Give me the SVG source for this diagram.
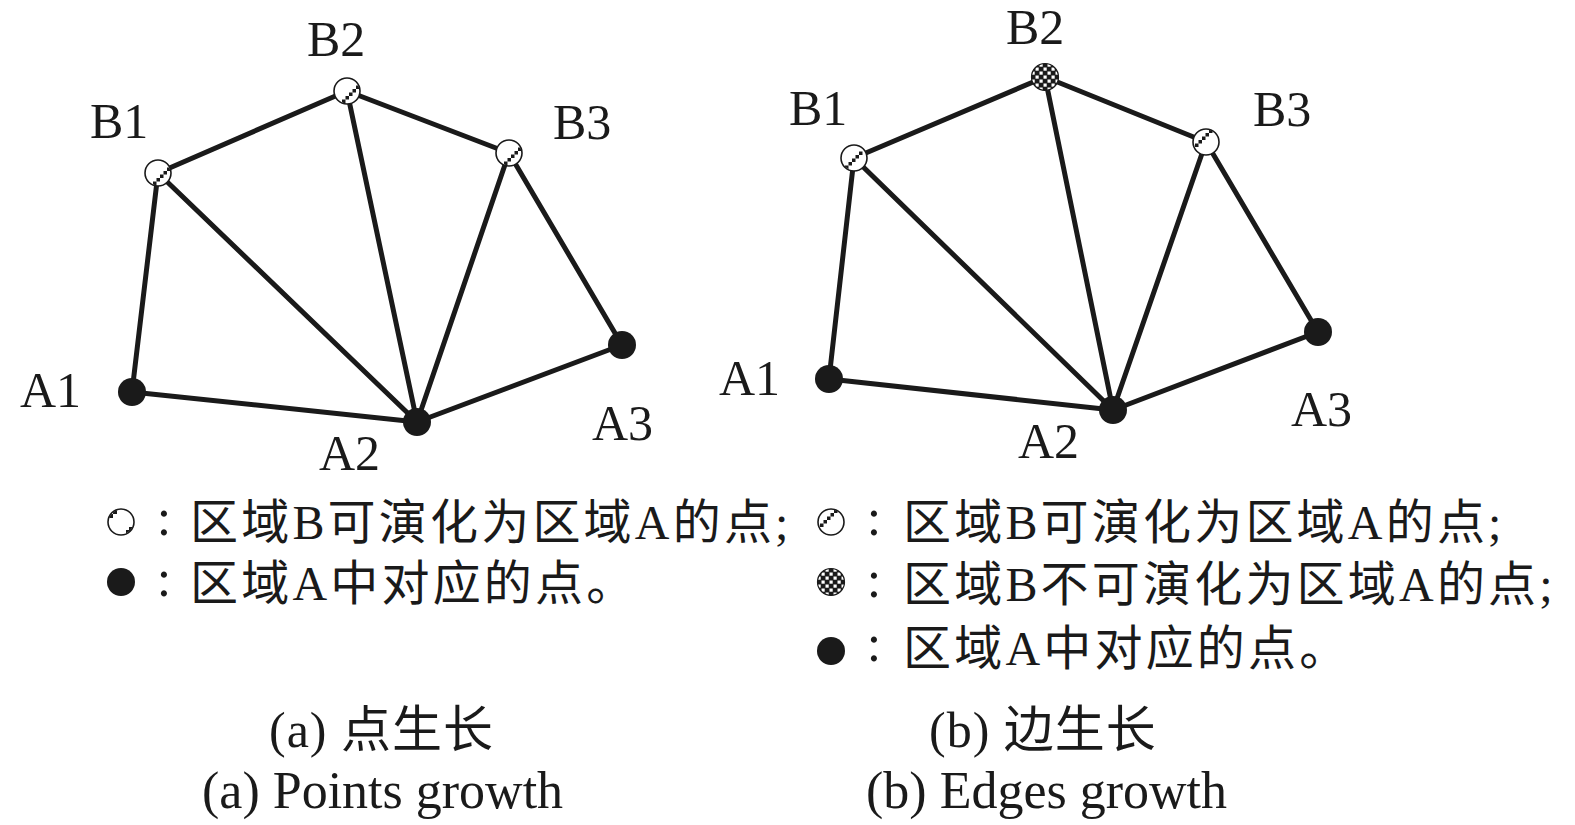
<svg xmlns="http://www.w3.org/2000/svg" width="1575" height="825" viewBox="0 0 1575 825">
<style>
.edge{stroke:#1a1a1a;stroke-width:5;stroke-linecap:round;fill:none}
.lbl{font-family:"Liberation Serif","Times New Roman",serif;font-size:50px;fill:#1a1a1a}
.leg{font-family:"Liberation Serif","Noto Sans CJK SC",serif;font-size:48px;fill:#1a1a1a;letter-spacing:3.2px}
.col{font-family:"Liberation Serif",serif;font-size:52px;fill:#1a1a1a;text-anchor:middle}
.cap{font-family:"Liberation Serif","Noto Sans CJK SC",serif;font-size:50px;fill:#1a1a1a;letter-spacing:1px}
.capE{font-family:"Liberation Serif",serif;font-size:52px;fill:#1a1a1a}
.open{fill:#fff;stroke:#1a1a1a;stroke-width:1.6}
.solid{fill:#1a1a1a}
.sq{fill:#1a1a1a}
</style>
<defs>
<clipPath id="cc"><circle r="12.5"/></clipPath>
<pattern id="chk" width="8" height="8" patternUnits="userSpaceOnUse" x="-2" y="-2">
<rect width="8" height="8" fill="#1a1a1a"/>
<rect x="0.5" y="0.5" width="3.2" height="3.2" fill="#fff"/>
<rect x="4.5" y="4.5" width="3.2" height="3.2" fill="#fff"/>
</pattern>
<g id="hatchA">
<circle r="13" class="open"/>
<g clip-path="url(#cc)" class="sq">
<rect x="-5" y="8.5" width="3.5" height="3.5"/><rect x="-1.5" y="5" width="3.5" height="3.5"/><rect x="2" y="1.5" width="3.5" height="3.5"/><rect x="5.5" y="-2" width="3.5" height="3.5"/><rect x="9" y="-5.5" width="3.5" height="3.5"/>
</g>
</g>
<g id="hatchB">
<circle r="13" class="open"/>
<g clip-path="url(#cc)" class="sq">
<rect x="-9" y="7.5" width="3.5" height="3.5"/><rect x="-5.5" y="4" width="3.5" height="3.5"/><rect x="-2" y="0.5" width="3.5" height="3.5"/><rect x="1.5" y="-3" width="3.5" height="3.5"/><rect x="5" y="-6.5" width="3.5" height="3.5"/>
</g>
</g>
<g id="hatchC">
<circle r="13" class="open"/>
<g clip-path="url(#cc)" class="sq">
<rect x="-11" y="1.5" width="3.5" height="3.5"/><rect x="-7.5" y="-2" width="3.5" height="3.5"/><rect x="-4" y="-5.5" width="3.5" height="3.5"/><rect x="-0.5" y="-9" width="3.5" height="3.5"/><rect x="3" y="-12.5" width="3.5" height="3.5"/>
</g>
</g>
<g id="hatchL">
<circle r="13" class="open"/>
<g clip-path="url(#cc)" class="sq">
<rect x="-12" y="-8" width="4" height="4"/><rect x="-8" y="-12" width="4" height="4"/><rect x="8" y="5" width="4" height="4"/><rect x="5" y="8" width="3" height="3"/>
</g>
</g>
<g id="checker">
<circle r="13.5" fill="url(#chk)" stroke="#1a1a1a" stroke-width="1.2"/>
</g>
<circle id="dotA" r="14" class="solid"/>
</defs>

<g id="connectors-a">
<line class="edge" x1="132" y1="392" x2="158" y2="173"/>
<line class="edge" x1="158" y1="173" x2="347" y2="91"/>
<line class="edge" x1="347" y1="91" x2="509" y2="153"/>
<line class="edge" x1="509" y1="153" x2="622" y2="345"/>
<line class="edge" x1="622" y1="345" x2="417" y2="422"/>
<line class="edge" x1="417" y1="422" x2="132" y2="392"/>
<line class="edge" x1="158" y1="173" x2="417" y2="422"/>
<line class="edge" x1="347" y1="91" x2="417" y2="422"/>
<line class="edge" x1="509" y1="153" x2="417" y2="422"/>
</g>
<g id="connectors-b">
<line class="edge" x1="829" y1="379" x2="854" y2="158"/>
<line class="edge" x1="854" y1="158" x2="1045" y2="77"/>
<line class="edge" x1="1045" y1="77" x2="1206" y2="142"/>
<line class="edge" x1="1206" y1="142" x2="1318" y2="332"/>
<line class="edge" x1="1318" y1="332" x2="1113" y2="410"/>
<line class="edge" x1="1113" y1="410" x2="829" y2="379"/>
<line class="edge" x1="854" y1="158" x2="1113" y2="410"/>
<line class="edge" x1="1045" y1="77" x2="1113" y2="410"/>
<line class="edge" x1="1206" y1="142" x2="1113" y2="410"/>
</g>

<g id="a-B1"><use href="#hatchA" x="158" y="173"/><text class="lbl" x="90" y="138">B1</text></g>
<g id="a-B2"><use href="#hatchA" x="347" y="91"/><text class="lbl" x="307" y="56">B2</text></g>
<g id="a-B3"><use href="#hatchA" x="509" y="153"/><text class="lbl" x="553" y="139">B3</text></g>
<g id="a-A1"><use href="#dotA" x="132" y="392"/><text class="lbl" x="20" y="407">A1</text></g>
<g id="a-A2"><use href="#dotA" x="417" y="422"/><text class="lbl" x="319" y="470">A2</text></g>
<g id="a-A3"><use href="#dotA" x="622" y="345"/><text class="lbl" x="592" y="440">A3</text></g>

<g id="b-B1"><use href="#hatchB" x="854" y="158"/><text class="lbl" x="789" y="125">B1</text></g>
<g id="b-B2"><use href="#checker" x="1045" y="77"/><text class="lbl" x="1006" y="44">B2</text></g>
<g id="b-B3"><use href="#hatchC" x="1206" y="142"/><text class="lbl" x="1253" y="126">B3</text></g>
<g id="b-A1"><use href="#dotA" x="829" y="379"/><text class="lbl" x="719" y="395">A1</text></g>
<g id="b-A2"><use href="#dotA" x="1113" y="410"/><text class="lbl" x="1018" y="458">A2</text></g>
<g id="b-A3"><use href="#dotA" x="1318" y="332"/><text class="lbl" x="1291" y="426">A3</text></g>

<g id="legend-a">
<use href="#hatchL" x="121" y="522"/>
<text class="col" x="164" y="535">:</text>
<text class="leg" x="190" y="539">区域B可演化为区域A的点;</text>
<use href="#dotA" x="121" y="582"/>
<text class="col" x="164" y="596">:</text>
<text class="leg" x="190" y="600">区域A中对应的点。</text>
</g>
<g id="legend-b">
<use href="#hatchC" x="831" y="522"/>
<text class="col" x="874" y="535">:</text>
<text class="leg" x="903" y="539">区域B可演化为区域A的点;</text>
<use href="#checker" x="831" y="582"/>
<text class="col" x="874" y="597">:</text>
<text class="leg" x="903" y="601">区域B不可演化为区域A的点;</text>
<use href="#dotA" x="831" y="651"/>
<text class="col" x="874" y="661">:</text>
<text class="leg" x="903" y="665">区域A中对应的点。</text>
</g>

<g id="captions">
<text class="cap" x="269" y="747">(a) 点生长</text>
<text class="capE" x="202" y="808">(a) Points growth</text>
<text class="cap" x="929" y="747">(b) 边生长</text>
<text class="capE" x="866" y="808">(b) Edges growth</text>
</g>
</svg>
